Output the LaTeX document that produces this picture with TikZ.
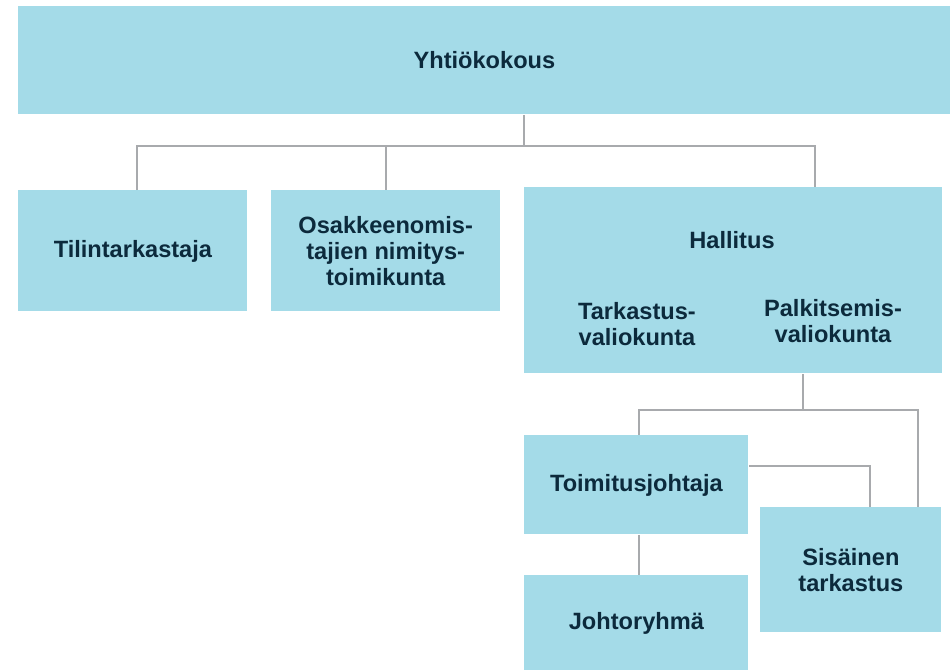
\documentclass[tikz,border=0pt]{standalone}
\usepackage{fontspec}
\setmainfont{Liberation Sans}
\usetikzlibrary{positioning, calc}
\definecolor{boxblue}{HTML}{A4DBE8}
\definecolor{ink}{HTML}{0C2A3C}
\definecolor{linegray}{HTML}{A8AAAD}

\begin{document}
\begin{tikzpicture}[x=0.5pt, y=-0.5pt,
	org/.style={fill=boxblue, inner sep=0pt, align=center, text=ink, font=\fontsize{11.8}{13}\selectfont\bfseries},
	lbl/.style={align=center, text=ink, font=\fontsize{11.8}{13}\selectfont\bfseries},
	link/.style={draw=linegray, line width=1pt}]
			\useasboundingbox (0,0) rectangle (950,670);
			% boxes
			\node[org, anchor=north west, minimum width=466pt, minimum height=54pt] (yhtio) at (18,6) {Yhti\"okokous};
			\node[org, anchor=north west, minimum width=114.5pt, minimum height=60.5pt] (tilin) at (18,190) {Tilintarkastaja};
			\node[org, right=11.5pt of tilin, minimum width=114.5pt, minimum height=60.5pt] (osak) {Osakkeenomis-\\tajien nimitys-\\toimikunta};
			\node[org, anchor=north west, minimum width=209pt, minimum height=93pt] (hall) at (524,187) {};
			\node[lbl] (hallname) at (732,240) {Hallitus};
			\node[lbl] (tark) at (637,324) {Tarkastus-\\valiokunta};
			\node[lbl] (palk) at (833,321) {Palkitsemis-\\valiokunta};
			\node[org, anchor=north west, minimum width=112pt, minimum height=49.5pt] (toim) at (524,435) {Toimitusjohtaja};
			\node[org, below=20pt of toim, minimum width=112pt, minimum height=48pt] (johto) {Johtoryhm\"a};
			\node[org, anchor=north west, minimum width=90.5pt, minimum height=62.5pt] (sis) at (760,507) {Sis\"ainen\\tarkastus};
			% connectors
			\coordinate (b0) at (524,146);
			\coordinate (b1) at (137,146);
			\coordinate (b2) at (386,146);
			\coordinate (b3) at (815,146);
			\coordinate (c0) at (803,410);
			\coordinate (c1) at (639,410);
			\coordinate (c2) at (918,410);
			\coordinate (c3) at (870,466);
			\draw[link] (yhtio.south -| b0) -- (b0);
			\draw[link] (b1 |- tilin.north) -- (b1) -- (b3) -- (b3 |- hall.north);
			\draw[link] (b2) -- (b2 |- osak.north);
			\draw[link] (hall.south -| c0) -- (c0);
			\draw[link] (c1 |- toim.north) -- (c1) -- (c2) -- (c2 |- sis.north);
			\draw[link] (c3 -| toim.east) -- (c3) -- (c3 |- sis.north);
			\draw[link] (toim.south -| c1) -- (johto.north -| c1);
		\end{tikzpicture}
\end{document}
